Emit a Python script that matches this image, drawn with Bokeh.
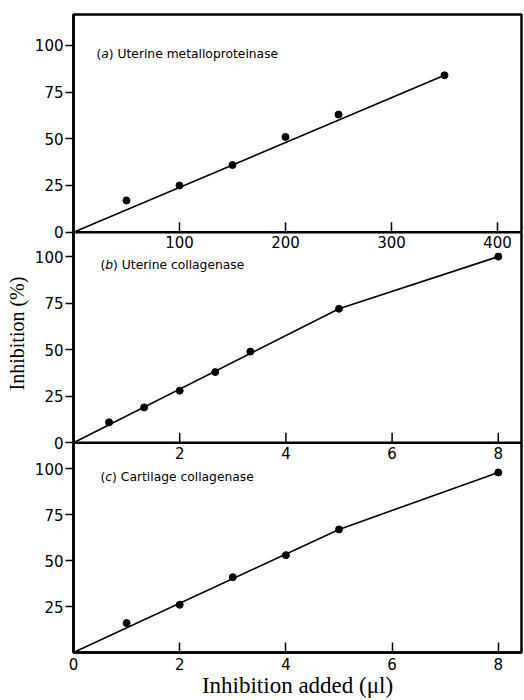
from bokeh.plotting import figure
from bokeh.models import Range1d, FixedTicker, Span, ColumnDataSource
from bokeh.core.properties import value
from bokeh.embed import file_html
from bokeh.resources import INLINE

# ---------------- data ----------------
a_dose = [50, 100, 150, 200, 250, 350]
a_inhib = [17, 25, 36, 51, 63, 84]
a_fit_x = [0, 350]
a_fit_y = [0, 84]

b_dose = [0.67, 1.33, 2, 2.67, 3.33, 5, 8]
b_inhib = [11, 19, 28, 38, 49, 72, 100]
b_fit_x = [0, 5, 8]
b_fit_y = [0, 72, 100]

c_dose = [1, 2, 3, 4, 5, 8]
c_inhib = [16, 26, 41, 53, 67, 98]
c_fit_x = [0, 5, 8]
c_fit_y = [0, 67, 98]

y_ticks = [0, 25, 50, 75, 100]
a_x_ticks = [100, 200, 300, 400]
bc_x_ticks = [2, 4, 6, 8]
c_x_ticks = [0, 2, 4, 6, 8]
panel_letters = ["a", "b", "c"]
panel_titles = ["Uterine metalloproteinase", "Uterine collagenase", "Cartilage collagenase"]
y_label = "Inhibition (%)"
x_label = "Inhibition added (\u03bcl)"

# ---------------- layout ----------------
W, H = 524, 700
FL, FR, FT, FB = 73, 521, 14, 653
frame_w, frame_h = FR - FL, FB - FT
# per panel: zero position (px above frame bottom), px per % unit
geom = {"a": (421, 1.87), "b": (210, 1.865), "c": (0, 1.84)}
px_per_a = 1.06      # px per unit of panel (a) x scale
px_per_bc = 53.1     # px per unit of panels (b),(c) x scale

SANS = "DejaVu Sans"
SERIF = "Liberation Serif"
TICK_FS = "15px"

p = figure(width=W, height=H, output_backend="svg", toolbar_location=None,
           x_range=Range1d(0, frame_w / px_per_bc), y_range=Range1d(0, frame_h),
           min_border_left=FL, min_border_right=W - FR,
           min_border_top=FT, min_border_bottom=H - FB)
p.grid.visible = False
p.outline_line_color = "black"
p.outline_line_width = 2.5
p.background_fill_color = "white"
p.border_fill_color = "white"

p.extra_y_ranges = {k: Range1d(-z / s, (frame_h - z) / s) for k, (z, s) in geom.items()}
p.extra_x_ranges = {"a": Range1d(0, frame_w / px_per_a)}

# ---- left axis: one axis carrying the ticks of all three panels ----
tick_pos, overrides = [], {}
for k in panel_letters:
    z, s = geom[k]
    for v in y_ticks:
        if k == "c" and v == 0:
            continue  # the corner "0" of panel (c) is carried by the x axis
        pos = z + s * v
        tick_pos.append(pos)
        overrides[pos] = str(v)
ya = p.yaxis[0]
ya.ticker = FixedTicker(ticks=tick_pos)
ya.major_label_overrides = overrides
ya.major_tick_out = 8
ya.major_tick_in = 0
ya.major_tick_line_width = 1.5
ya.minor_tick_line_color = None
ya.axis_line_width = 2.5
ya.major_label_standoff = 2
ya.major_label_text_font = SANS
ya.major_label_text_font_size = TICK_FS
ya.major_label_text_color = "black"
ya.axis_label = y_label
ya.axis_label_text_font = SERIF
ya.axis_label_text_font_size = "20px"
ya.axis_label_text_font_style = "normal"
ya.axis_label_text_color = "black"
ya.axis_label_standoff = 4

# ---- bottom axis: panel (c) ----
xa = p.xaxis[0]
xa.ticker = FixedTicker(ticks=c_x_ticks)
xa.major_tick_in = 10
xa.major_tick_out = 0
xa.major_tick_line_width = 1.5
xa.minor_tick_line_color = None
xa.axis_line_width = 2.5
xa.major_label_standoff = 5
xa.major_label_text_font = SANS
xa.major_label_text_font_size = TICK_FS
xa.major_label_text_color = "black"
xa.axis_label = x_label
xa.axis_label_text_font = SERIF
xa.axis_label_text_font_size = "23px"
xa.axis_label_text_font_style = "normal"
xa.axis_label_text_color = "black"
xa.axis_label_standoff = 0

# ---- inner x axes of panels (a) and (b) ----
for k, ticks, xr in [("a", a_x_ticks, "a"), ("b", bc_x_ticks, "default")]:
    z, s = geom[k]
    p.add_layout(Span(location=0, dimension="width", y_range_name=k,
                      line_color="black", line_width=2.5))
    p.segment(x0=ticks, y0=[0] * len(ticks), x1=ticks, y1=[10 / s] * len(ticks),
              x_range_name=xr, y_range_name=k, line_color="black", line_width=1.5)
    p.text(x=ticks, y=[0] * len(ticks), text=[str(t) for t in ticks],
           x_range_name=xr, y_range_name=k, text_align="center", text_baseline="top",
           y_offset=4, text_font=value(SANS), text_font_size=TICK_FS, text_color="black")

# ---- data ----
series = [("a", "a", a_dose, a_inhib, a_fit_x, a_fit_y),
          ("b", "default", b_dose, b_inhib, b_fit_x, b_fit_y),
          ("c", "default", c_dose, c_inhib, c_fit_x, c_fit_y)]
for k, xr, xs, ys, fx, fy in series:
    p.line(fx, fy, x_range_name=xr, y_range_name=k, line_color="black", line_width=1.6)
    p.scatter(xs, ys, x_range_name=xr, y_range_name=k, size=7,
              fill_color="black", line_color="black")

# ---- panel titles "(x) ..." with italic letter ----
LABEL_FS = "12.3px"
letter_w = {"a": 7.5, "b": 7.8, "c": 6.8}
paren_w = 4.8
for k, title, xoff in zip(panel_letters, panel_titles, [23, 27, 27]):
    src = ColumnDataSource(dict(
        x=[0, 0, 0], y=[95.5] * 3,
        text=["(", k, ") " + title],
        style=["normal", "italic", "normal"],
        xo=[xoff, xoff + paren_w, xoff + paren_w + letter_w[k]],
    ))
    p.text(x="x", y="y", text="text", source=src, y_range_name=k,
           x_offset="xo", text_font_style="style", text_align="left",
           text_baseline="middle", text_font=value(SANS),
           text_font_size=LABEL_FS, text_color="black")

open("out.html", "w").write(file_html(p, INLINE))
